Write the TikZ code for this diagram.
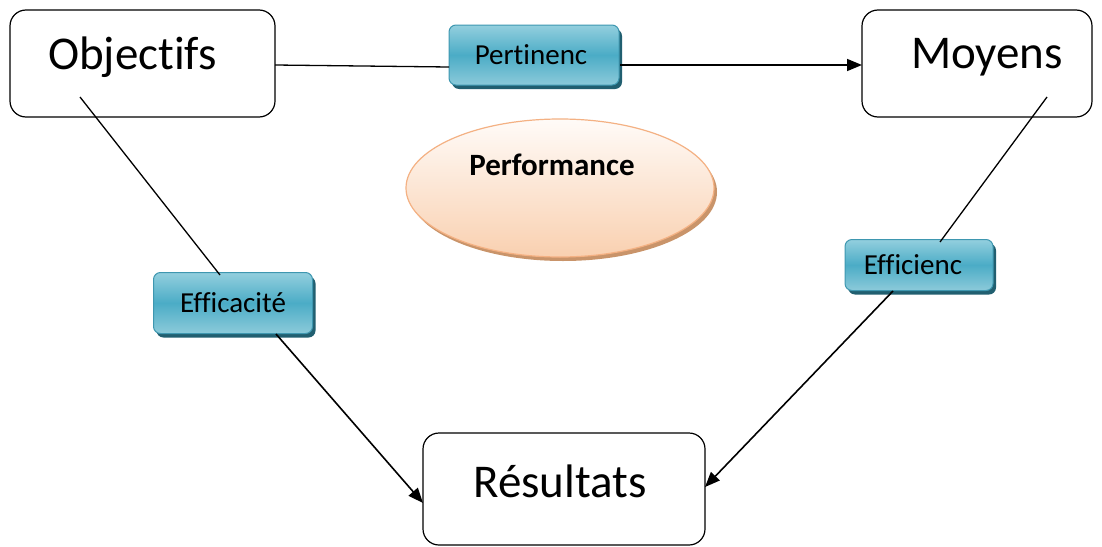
\documentclass[tikz,border=0pt]{standalone}
\usepackage{fontspec}
\setmainfont{Carlito}[Ligatures=NoCommon]
\usetikzlibrary{arrows.meta,shadows,shapes.geometric}
\definecolor{tealtop}{HTML}{93CFDE}
\definecolor{tealmid}{HTML}{4BACC6}
\definecolor{tealbot}{HTML}{8CCADA}
\definecolor{tealedge}{HTML}{3E97B0}
\definecolor{tealshadow}{HTML}{215F70}
\definecolor{peachtop}{HTML}{FFFBF8}
\definecolor{peachbot}{HTML}{F9D0B0}
\definecolor{peachedge}{HTML}{F4B183}
\definecolor{peachshadow}{HTML}{C9946A}
\tikzset{
  mainbox/.style={draw=black, line width=1.2pt, rounded corners=16pt, fill=white},
  tag/.style={draw=tealedge, line width=1pt, rounded corners=7pt,
    top color=tealtop, bottom color=tealbot, middle color=tealmid,
    drop shadow={shadow xshift=3pt, shadow yshift=-4pt, fill=tealshadow, opacity=1},
    font=\fontsize{29}{31}\selectfont, text=black, inner sep=0pt},
  plain/.style={draw=black, line width=1.3pt},
  arrowline/.style={draw=black, line width=1.6pt, -{Triangle[length=15pt,width=12pt]}},
  bigtext/.style={font=\fontsize{47}{50}\selectfont}
}
\begin{document}
\begin{tikzpicture}[x=1pt,y=-1pt]
\useasboundingbox (0,0) rectangle (1102,546);
\fill[white] (0,0) rectangle (1102,546);

% main boxes
\node[mainbox, minimum width=265pt, minimum height=107pt,
  label={[bigtext, xshift=-10pt, yshift=6pt]center:Objectifs}] (obj) at (142.5,63.5) {};
\node[mainbox, minimum width=230pt, minimum height=107pt,
  label={[bigtext, xshift=10pt, yshift=6pt]center:Moyens}] (moy) at (977,63.5) {};
\node[mainbox, minimum width=282pt, minimum height=112pt,
  label={[bigtext, xshift=-4pt, yshift=8pt]center:Résultats}] (res) at (564,489) {};

% central ellipse
\node[ellipse, draw=peachedge, line width=1.2pt, top color=peachtop, bottom color=peachbot,
  drop shadow={shadow xshift=3pt, shadow yshift=-4pt, fill=peachshadow, opacity=1},
  minimum width=308pt, minimum height=138pt,
  label={[font=\bfseries\fontsize{31}{33}\selectfont, xshift=-8pt, yshift=23pt]center:Performance}] (perf) at (560,188) {};

% criteria tags
\node[tag, minimum width=170pt, minimum height=60pt, text width=170pt, align=center] (pert) at (534,55) {\hspace*{-6pt}Pertinenc};
\node[tag, minimum width=159pt, minimum height=61pt, text width=159pt, align=center] (effa) at (233,303) {Efficacité};
\node[tag, minimum width=148pt, minimum height=51pt, text width=148pt, align=center] (effi) at (919,265) {\hspace*{-12pt}\raisebox{-3pt}{Efficienc}};

% anchor points of the connectors
\coordinate (o1) at (275,65);
\coordinate (o2) at (80,97);
\coordinate (m2) at (1047,97);
\coordinate (p1) at (449,67);
\coordinate (p2) at (620,65);
\coordinate (a1) at (220,275);
\coordinate (a2) at (276,334);
\coordinate (e1) at (940,242);
\coordinate (e2) at (893,291);
\coordinate (r1) at (423,503);
\coordinate (r2) at (705,487);
\coordinate (m1) at (862,65);

% connectors
\draw[plain] (o1) -- (p1);
\draw[arrowline] (p2) -- (m1);
\draw[plain] (o2) -- (a1);
\draw[arrowline] (a2) -- (r1);
\draw[plain] (m2) -- (e1);
\draw[arrowline] (e2) -- (r2);
\end{tikzpicture}
\end{document}
